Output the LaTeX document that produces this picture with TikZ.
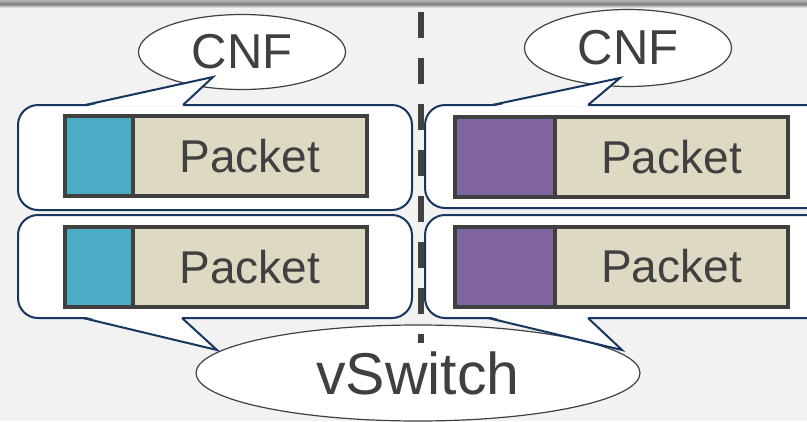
\documentclass[tikz,border=0pt]{standalone}
\usepackage{fontspec}
\setmainfont{Liberation Sans}
\usetikzlibrary{positioning,shapes.geometric}
\definecolor{bgfill}{HTML}{F2F2F2}
\definecolor{ink}{HTML}{404040}
\definecolor{navy}{HTML}{17375E}
\definecolor{hdrblue}{HTML}{4BACC6}
\definecolor{hdrpurple}{HTML}{8064A2}
\definecolor{payload}{HTML}{DDD9C3}
\begin{document}
\begin{tikzpicture}[x=1pt,y=-1pt,
	bubble/.style={ ellipse, draw=ink, line width=1.2pt, fill=white, inner sep=0pt, text=ink },
	callout/.style={ draw=navy, line width=2pt, fill=white, rounded corners=20pt },
	tail/.style={ draw=navy, line width=2pt, line join=miter },
	hdr/.style={ rectangle, draw=ink, line width=4pt, inner sep=0pt, outer sep=0pt, minimum height=80pt },
	pkt/.style={ hdr, fill=payload, text=ink, minimum width=234pt, font=\fontsize{46}{46}\selectfont },
	divider/.style={ draw=ink, line width=6pt, dash pattern=on 26pt off 20pt }
]

\useasboundingbox (0,0) rectangle (807,421);
\clip (0,0) rectangle (807,421);
\fill[bgfill] (0,0) rectangle (807,421);
\shade[top color=black!30, bottom color=black!50] (0,0) rectangle (807,4);
\shade[top color=black!50, bottom color=bgfill] (0,4) rectangle (807,8);

% CNF bubbles
\node[bubble, minimum width=207pt, minimum height=75pt, font=\fontsize{49}{49}\selectfont]
  (cnfl) at (242,52) {CNF};
\node[bubble, minimum width=207pt, minimum height=77pt, font=\fontsize{49}{49}\selectfont]
  (cnfr) at (628,48) {CNF};

% vSwitch bubble
\node[bubble, minimum width=444pt, minimum height=96pt, font=\fontsize{59}{59}\selectfont]
  (vsw) at (418,373) {vSwitch};

% callouts, boxes first and tails over them
\draw[callout] (18,105) rectangle (412,210);
\draw[callout] (18,215) rectangle (412,318);
\draw[callout] (425,105) rectangle (830,208);
\draw[callout] (425,215) rectangle (830,318);

\fill[white] (86,106.5) -- (213,77) -- (182,106.5) -- cycle;
\draw[tail] (85,105) -- (213,77) -- (183,105);
\fill[white] (84,316.5) -- (217,350) -- (181,316.5) -- cycle;
\draw[tail] (83,318) -- (217,350) -- (182,318);
\fill[white] (493,106.5) -- (620,78) -- (587,106.5) -- cycle;
\draw[tail] (492,105) -- (620,78) -- (588,105);
\fill[white] (489,316.5) -- (622,350) -- (587,316.5) -- cycle;
\draw[tail] (488,318) -- (622,350) -- (588,318);

% packets
\node[hdr, fill=hdrblue, minimum width=68pt] (h1) at (99,156) {};
\node[pkt, right=0pt of h1] (p1) {Packet};
\node[hdr, fill=hdrblue, minimum width=68pt] (h2) at (99,267) {};
\node[pkt, right=0pt of h2] (p2) {Packet};
\node[hdr, fill=hdrpurple, minimum width=100pt] (h3) at (505,157) {};
\node[pkt, minimum width=233pt, right=0pt of h3] (p3) {Packet};
\node[hdr, fill=hdrpurple, minimum width=100pt] (h4) at (505,266.5) {};
\node[pkt, minimum width=233pt, right=0pt of h4] (p4) {Packet};

% divider
\draw[divider] (421,12) -- (421,343);

\end{tikzpicture}
\end{document}
